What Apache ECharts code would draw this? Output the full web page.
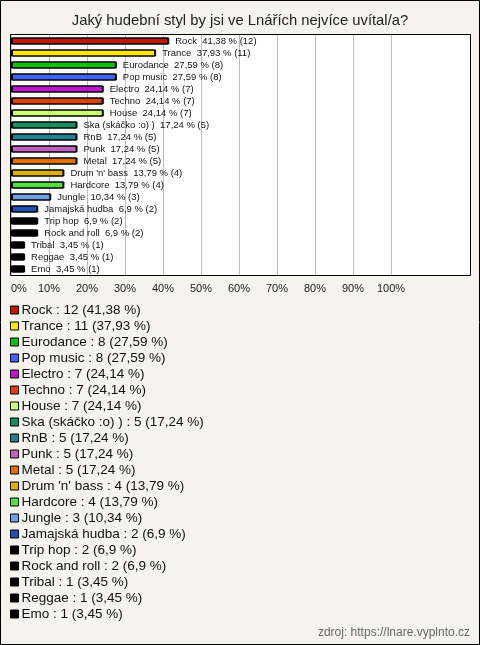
<!DOCTYPE html>
<html>
<head>
<meta charset="utf-8">
<script src="https://cdn.jsdelivr.net/npm/echarts@6/dist/echarts.min.js"></script>
<style>
html,body{margin:0;padding:0;background:#f4f3ec;}
#c{width:480px;height:645px;}
</style>
</head>
<body>
<div id="c"></div>
<script>
const categories = ["Rock","Trance","Eurodance","Pop music","Electro","Techno","House","Ska (skáčko :o) )","RnB","Punk","Metal","Drum 'n' bass","Hardcore","Jungle","Jamajská hudba","Trip hop","Rock and roll","Tribal","Reggae","Emo"];
const counts = [12,11,8,8,7,7,7,5,5,5,5,4,4,3,2,2,2,1,1,1];
const percents = [41.38,37.93,27.59,27.59,24.14,24.14,24.14,17.24,17.24,17.24,17.24,13.79,13.79,10.34,6.9,6.9,6.9,3.45,3.45,3.45];
const colors = ["#c01800","#ffe800","#10c010","#4060ff","#c010d0","#e04000","#ccff77","#109060","#208090","#c060c0","#e07000","#e0b000","#50e040","#70a0e8","#2050b0","#000000","#000000","#000000","#000000","#000000"];
const xTicks = [0,10,20,30,40,50,60,70,80,90,100];
const title = "Jaký hudební styl by jsi ve Lnářích nejvíce uvítal/a?";
const source = "zdroj: https://lnare.vyplnto.cz";

const fmt = v => String(v).replace('.', ',');
const FONT = "'Liberation Sans', Arial, sans-serif";

const series = categories.map((name, i) => ({
  name: name,
  type: 'bar',
  barWidth: 7,
  barGap: '-100%',
  data: categories.map((c, j) => j === i ? percents[i] : null),
  itemStyle: { color: colors[i], borderColor: '#000', borderWidth: 1,
               shadowColor: '#000', shadowOffsetX: 1, shadowOffsetY: 0 },
  label: {
    show: true, position: 'right', distance: 7,
    fontFamily: FONT, fontSize: 9.5, color: '#111',
    formatter: () => name + '  ' + fmt(percents[i]) + ' % (' + counts[i] + ')'
  },
  emphasis: { disabled: true },
  z: 3
}));

const chart = echarts.init(document.getElementById('c'), null, { renderer: 'canvas' });
chart.setOption({
  backgroundColor: '#f4f3ec',
  animation: false,
  textStyle: { fontFamily: FONT },
  title: [
    { text: title, left: 'center', top: 8,
      textStyle: { fontFamily: FONT, fontSize: 14.8, fontWeight: 'normal', color: '#222' } },
    { text: source, right: 10, bottom: 6, padding: 0,
      textStyle: { fontFamily: FONT, fontSize: 12, fontWeight: 'normal', color: '#666' } }
  ],
  graphic: [
    { type: 'rect', z: -10, silent: true,
      shape: { x: 0.5, y: 0.5, width: 479, height: 644 },
      style: { fill: 'none', stroke: '#000', lineWidth: 1 } },
    { type: 'rect', z: -5, silent: true,
      shape: { x: 10.5, y: 34.5, width: 460, height: 241 },
      style: { fill: '#fff', stroke: '#000', lineWidth: 1 } }
  ],
  grid: { left: 11, top: 35, width: 380, height: 240, containLabel: false },
  xAxis: {
    type: 'value', min: xTicks[0], max: xTicks[xTicks.length - 1], interval: 10,
    axisLine: { show: false }, axisTick: { show: false },
    splitLine: { show: true, lineStyle: { color: '#bdbdbd', width: 1 } },
    axisLabel: { formatter: '{value}%', fontFamily: FONT, fontSize: 11, color: '#222', margin: 8, alignMinLabel: 'left' }
  },
  yAxis: {
    type: 'category', data: categories, inverse: true,
    axisLine: { show: false }, axisTick: { show: false }, axisLabel: { show: false },
    splitLine: { show: false }
  },
  legend: {
    orient: 'vertical', left: 5, top: 298,
    icon: 'rect', itemWidth: 8, itemHeight: 8, itemGap: 2,
    selectedMode: false,
    itemStyle: { borderColor: '#000', borderWidth: 1 },
    textStyle: { fontFamily: FONT, fontSize: 13.5, color: '#111', padding: [0,0,0,-2], height: 14, lineHeight: 14 },
    data: categories,
    formatter: name => {
      const i = categories.indexOf(name);
      return name + ' : ' + counts[i] + ' (' + fmt(percents[i]) + ' %)';
    }
  },
  series: series
});
</script>
</body>
</html>
